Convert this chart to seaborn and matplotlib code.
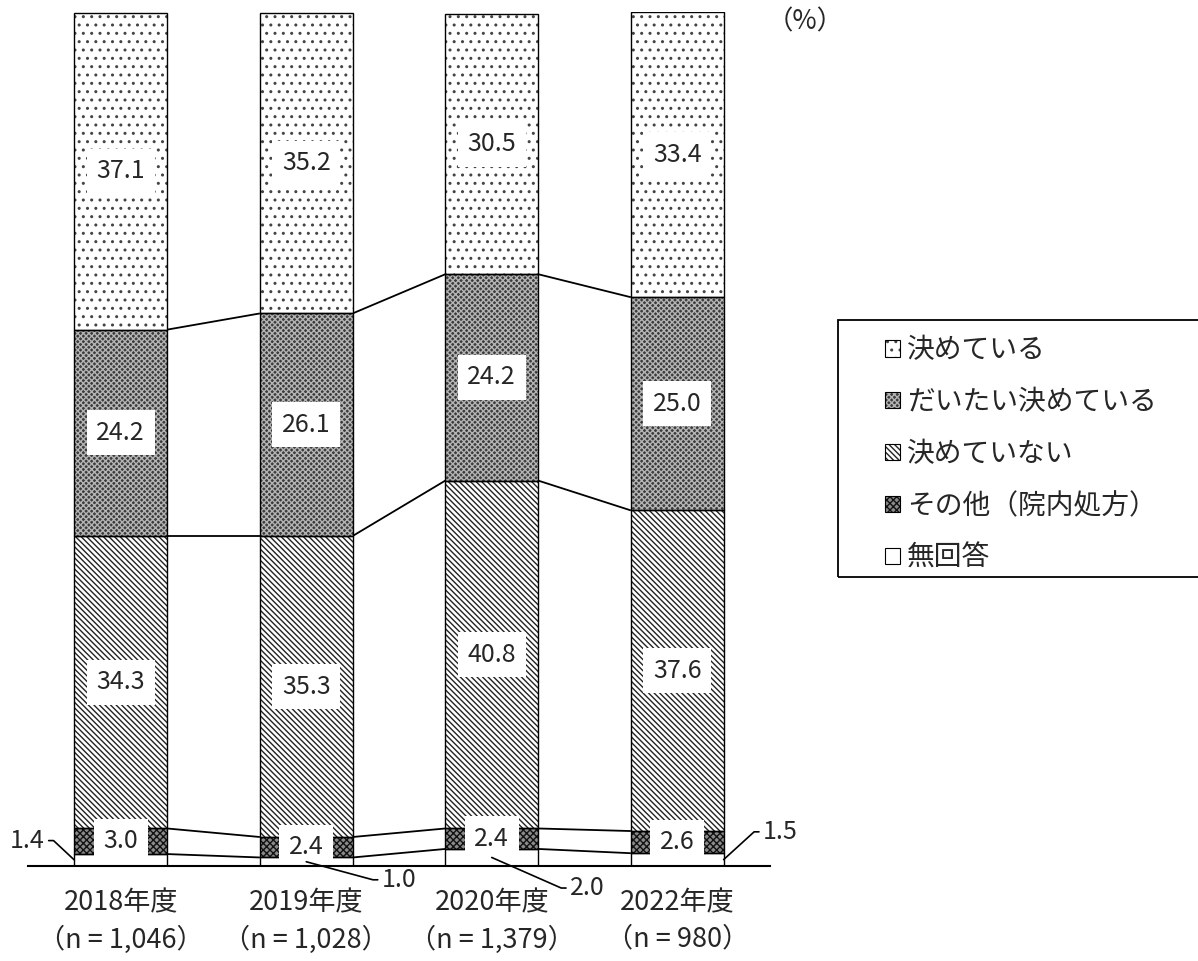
import numpy as np
import pandas as pd
import matplotlib
matplotlib.use("Agg")
import matplotlib.pyplot as plt
import seaborn as sns
from matplotlib.patches import Patch, Rectangle

sns.set_style("white")
plt.rcParams["font.family"] = ["Noto Sans CJK JP", "DejaVu Sans"]
plt.rcParams["hatch.linewidth"] = 1.0

# data (%), bottom to top order is defined by series below
years = ["2018年度", "2019年度", "2020年度", "2022年度"]
n_labels = ["（n = 1,046）", "（n = 1,028）", "（n = 1,379）", "（n = 980）"]
kimeteiru = [37.1, 35.2, 30.5, 33.4]
daitai = [24.2, 26.1, 24.2, 25.0]
kimeteinai = [34.3, 35.3, 40.8, 37.6]
sonota = [3.0, 2.4, 2.4, 2.6]
mukaitou = [1.4, 1.0, 2.0, 1.5]

series_names = ["決めている", "だいたい決めている", "決めていない", "その他（院内処方）", "無回答"]
series_vals = [kimeteiru, daitai, kimeteinai, sonota, mukaitou]

# style per series: facecolor, hatch, hatch color
styles = {
    "決めている": ("white", "..", "#444444"),
    "だいたい決めている": ("#3c3c3c", "xxxxxx", "#b4b4b4"),
    "決めていない": ("white", "\\\\\\\\\\\\", "#222222"),
    "その他（院内処方）": ("#8a8a8a", "xxxxx", "#111111"),
    "無回答": ("white", "", "black"),
}

xlabels = [f"{y}\n{n}" for y, n in zip(years, n_labels)]
df = pd.DataFrame({"year": xlabels})

fig = plt.figure(figsize=(11.98, 9.61), dpi=100)
ax = fig.add_axes([28 / 1198, 95 / 961, 742 / 1198, 854 / 961])

bar_w = 0.5
stack_order = series_names[::-1]
bottom = np.zeros(len(years))
bottoms = {}
for name in stack_order:
    vals = np.array(series_vals[series_names.index(name)])
    face, hatch, hcol = styles[name]
    df["v"] = vals
    n0 = len(ax.patches)
    sns.barplot(data=df, x="year", y="v", bottom=bottom, color=face, saturation=1,
                width=bar_w, linewidth=0, errorbar=None, ax=ax, zorder=2)
    for p in ax.patches[n0:]:
        if hatch:
            ax.add_patch(Rectangle(p.get_xy(), p.get_width(), p.get_height(), fill=False,
                                   hatch=hatch, edgecolor=hcol, linewidth=0, zorder=3))
        ax.add_patch(Rectangle(p.get_xy(), p.get_width(), p.get_height(), fill=False,
                               edgecolor="black", linewidth=1.0, zorder=4))
    bottoms[name] = bottom.copy()
    bottom = bottom + vals

# connector lines between bars
xs = np.arange(len(years))
for name in stack_order[:-1]:
    top = bottoms[name] + np.array(series_vals[series_names.index(name)])
    for i in range(len(years) - 1):
        ax.plot([xs[i] + bar_w / 2, xs[i + 1] - bar_w / 2], [top[i], top[i + 1]],
                color="black", lw=1.3, zorder=1, solid_capstyle="butt")

# value labels inside bars
for name in series_names[:4]:
    vals = np.array(series_vals[series_names.index(name)])
    mids = bottoms[name] + vals / 2
    for i, (v, m) in enumerate(zip(vals, mids)):
        ax.text(xs[i], m, f"{v:.1f}", ha="center", va="center", fontsize=18, zorder=6,
                bbox=dict(boxstyle="square,pad=0.38", fc="white", ec="none"))

# 無回答 labels with leader lines
anchor_dx = [-bar_w / 2, 0, 0, bar_w / 2]
text_off = [(-34, 14), (67, -13), (69, -22), (41, 20)]
for i, v in enumerate(mukaitou):
    left = text_off[i][0] < 0
    ax.annotate(f"{v:.1f}", xy=(xs[i] + anchor_dx[i], v / 2), xytext=text_off[i],
                textcoords="offset points", ha="center", va="center", fontsize=18,
                annotation_clip=False, zorder=7,
                arrowprops=dict(arrowstyle="-", color="black", lw=1.2,
                                relpos=(1, 0.5) if left else (0, 0.5),
                                shrinkA=3, shrinkB=0, patchA=None,
                                connectionstyle=f"arc,angleA={0 if left else 180},angleB=0,armA=9,armB=0,rad=0"))

ax.set_xlim(-0.5, 3.5)
ax.set_ylim(0, 100.15)
ax.set_xlabel("")
ax.set_ylabel("")
ax.set_yticks([])
ax.tick_params(axis="x", length=0, pad=17, labelsize=19.5)
for lbl in ax.get_xticklabels():
    lbl.set_linespacing(1.4)
for s in ["left", "right", "top"]:
    ax.spines[s].set_visible(False)
ax.spines["bottom"].set_linewidth(1.5)
ax.spines["bottom"].set_color("black")
ax.spines["bottom"].set_zorder(8)
ax.set_facecolor("none")

fig.text(805 / 1198, 1 - 22 / 961, "（%）", ha="center", va="center", fontsize=19)

# legend
handles = []
for name in series_names:
    face, hatch, hcol = styles[name]
    handles.append((Patch(facecolor=face, edgecolor="none"),
                    Patch(fill=False, hatch=hatch, edgecolor=hcol, linewidth=0),
                    Patch(fill=False, edgecolor="black", linewidth=0.8)))
fig.legend(handles, series_names, loc="upper left",
           bbox_to_anchor=(885 / 1198, 1 - 335 / 961), frameon=False, fontsize=20,
           handlelength=0.55, handleheight=0.55, handletextpad=0.25, labelspacing=0.79,
           borderpad=0, borderaxespad=0)
fig.patches.append(Rectangle((838 / 1198, 1 - 577 / 961), 0.5, 257 / 961, fill=False,
                             edgecolor="black", linewidth=1.3, transform=fig.transFigure,
                             figure=fig))

fig.savefig("out.png", dpi=100)
